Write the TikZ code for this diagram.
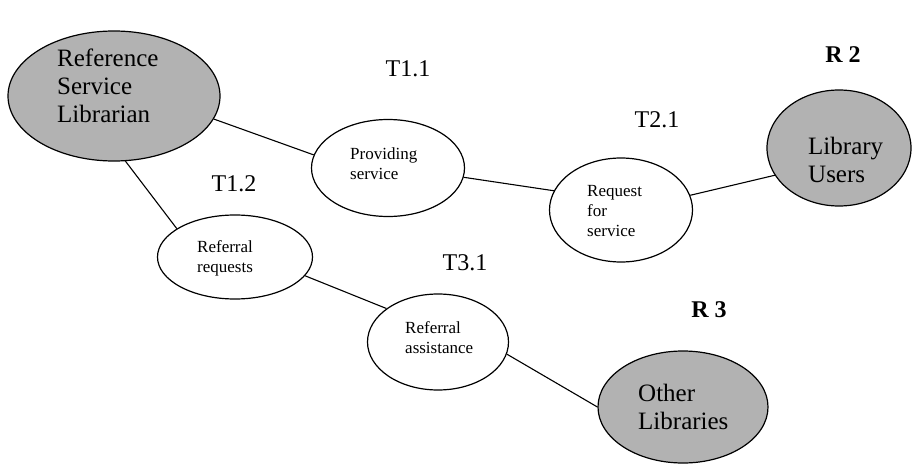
\documentclass[tikz,border=0pt]{standalone}
\usepackage{fontspec}
\setmainfont{Liberation Serif}
\usetikzlibrary{shapes.geometric}

\tikzset{
  actor/.style={ellipse, draw, line width=1.2pt, fill=black!30, inner sep=0pt},
  task/.style={ellipse, draw, line width=1.2pt, fill=white, inner sep=0pt},
  bigtext/.style={anchor=west, inner sep=0pt, align=left, font=\fontsize{25}{28}\selectfont},
  smalltext/.style={anchor=west, inner sep=0pt, align=left, font=\fontsize{17}{20}\selectfont},
  tag/.style={inner sep=0pt, font=\fontsize{24}{27}\selectfont},
  link/.style={line width=1.1pt}
}

\begin{document}
\begin{tikzpicture}[x=1pt,y=-1pt]
          \useasboundingbox (0,0) rectangle (912,476);

          \node[actor, minimum width=212pt, minimum height=130pt] (librarian) at (114,96) {};
          \node[bigtext] (librariantext) at (57,86) {Reference\\Service\\Librarian};

          \node[actor, minimum width=144pt, minimum height=116pt] (users) at (839,148) {};
          \node[bigtext] (userstext) at (808,160) {Library\\Users};

          \node[actor, minimum width=170pt, minimum height=112pt] (libraries) at (683,407) {};
          \node[bigtext] (librariestext) at (638,407) {Other\\Libraries};

          \node[task, minimum width=153pt, minimum height=97pt] (providing) at (388,168) {};
          \node[smalltext] (providingtext) at (350,164) {Providing\\service};

          \node[task, minimum width=143pt, minimum height=104pt] (request) at (621,210) {};
          \node[smalltext] (requesttext) at (587,211) {Request\\for\\service};

          \node[task, minimum width=155pt, minimum height=84pt] (referral) at (235,257) {};
          \node[smalltext] (referraltext) at (197,258) {Referral\\requests};

          \node[task, minimum width=141pt, minimum height=96pt] (assist) at (438,342) {};
          \node[smalltext] (assisttext) at (405,338) {Referral\\assistance};

          \node[tag] (t11) at (408,69) {T1.1};
          \node[tag] (t21) at (657,120) {T2.1};
          \node[tag] (t12) at (234,184) {T1.2};
          \node[tag] (t31) at (465,263) {T3.1};
          \node[tag, font=\fontsize{24}{27}\selectfont\bfseries] (r2) at (843,55) {R 2};
          \node[tag, font=\fontsize{24}{27}\selectfont\bfseries] (r3) at (709,310) {R 3};

          \draw[link] (librarian.-13) -- (providing.170);
          \draw[link] (librarian.-80) -- (referral.154);
          \draw[link] (providing.-7) -- (request.164);
          \draw[link] (request.12) -- (users.203);
          \draw[link] (referral.-15) -- (assist.147);
          \draw[link] (assist.-10) -- (libraries.180);
        \end{tikzpicture}
\end{document}
